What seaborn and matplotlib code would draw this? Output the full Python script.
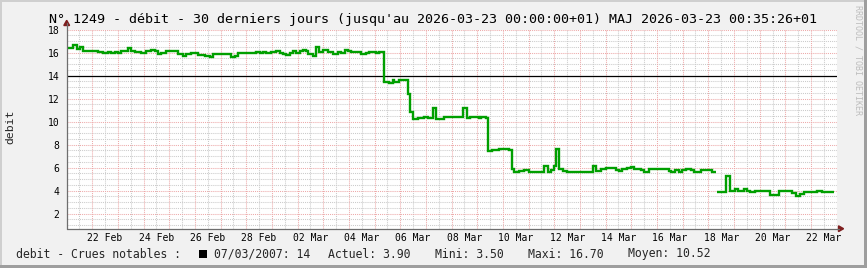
import numpy as np
import pandas as pd
import matplotlib
matplotlib.use("Agg")
import matplotlib.pyplot as plt
import matplotlib.dates as mdates
from matplotlib.patches import Rectangle, Polygon
from matplotlib.lines import Line2D
import seaborn as sns

# ------------------------------------------------------------------ data
period_start = "2026-02-21 00:00"
period_end = "2026-03-23 00:00"

# step changes: time (days since period start) and level (debit) from that time on
change_days = [
    0.00, 0.26, 0.39, 0.52, 0.65, 1.23, 1.43, 1.62, 1.75, 1.88, 2.01, 2.14, 2.40, 2.53,
    2.66, 2.92, 3.11, 3.31, 3.43, 3.57, 3.69, 3.89, 4.08, 4.34, 4.54, 4.67, 4.86, 5.12,
    5.38, 5.57, 5.71, 6.42, 6.55, 6.68, 6.87, 7.26, 7.39, 7.52, 7.65, 7.78, 7.97, 8.17,
    8.30, 8.43, 8.56, 8.69, 8.82, 8.95, 9.08, 9.21, 9.33, 9.40, 9.59, 9.72, 9.85, 9.98,
    10.18, 10.37, 10.57, 10.70, 10.83, 10.96, 11.08, 11.47, 11.67, 11.80, 12.06, 12.19,
    12.38, 12.58, 12.71, 12.77, 12.97, 13.29, 13.39, 13.48, 13.68, 13.94, 14.07, 14.26,
    14.39, 14.72, 14.85, 15.43, 15.60, 15.73, 16.08, 16.14, 16.34, 16.40, 16.59, 16.85,
    16.98, 17.11, 17.24, 17.37, 17.44, 17.63, 17.83, 18.02, 18.60, 18.76, 18.86, 18.97,
    19.06, 19.19, 19.32, 19.51, 20.49, 20.61, 20.81, 21.00, 21.20, 21.39, 21.52, 21.65,
    21.85, 21.97, 22.10, 22.36, 22.49, 22.69, 23.47, 23.53, 23.72, 23.85, 23.98, 24.12,
    24.31, 24.44, 24.70, 24.77, 25.15, 25.28, 25.32, 25.67, 25.84, 26.02, 26.15, 26.38,
    26.49, 26.64, 26.80, 27.42, 27.74, 28.07, 28.26, 28.43, 28.56, 28.71, 28.97, 29.23,
    29.43, 29.62,
]
debit_values = [
    16.37, 16.70, 16.31, 16.46, 16.17, 16.05, 15.94, 16.05, 15.94, 16.05, 15.94, 16.17, 16.37, 16.17,
    16.05, 15.99, 16.17, 16.26, 16.17, 15.88, 15.99, 16.17, 16.11, 15.88, 15.73, 15.88, 15.94, 15.82,
    15.70, 15.59, 15.88, 15.59, 15.73, 15.99, 15.94, 15.99, 16.03, 15.97, 16.08, 15.97, 16.08, 16.14,
    15.97, 15.88, 15.82, 15.97, 16.14, 15.97, 16.14, 16.23, 16.14, 15.85, 15.73, 16.50, 16.08, 16.23,
    16.08, 15.91, 16.08, 15.97, 16.20, 16.14, 16.03, 15.85, 15.97, 16.03, 15.97, 16.03,
    13.46, 13.40, 13.61, 13.46, 13.64, 12.38, 10.84, 10.20, 10.35, 10.40, 10.35, 11.16,
    10.26, 10.38, 10.43, 11.16, 10.29, 10.43, 10.35, 10.43, 10.35, 7.43, 7.52, 7.64,
    7.58, 7.64, 7.52, 5.89, 5.60, 5.70, 5.76, 5.65, 6.12, 5.65, 5.76, 6.10,
    7.64, 5.90, 5.70, 5.60, 6.12, 5.70, 5.85, 6.01, 5.95, 5.83, 5.72, 5.89,
    5.95, 6.07, 5.92, 5.77, 5.60, 5.89, 5.72, 5.60, 5.81, 5.60, 5.81, 5.92,
    5.77, 5.60, 5.75, 5.83, 5.66, np.nan, 3.89, 5.25, 3.94, 4.17, 3.97, 4.17,
    3.94, 3.89, 3.97, 3.62, 3.94, 3.97, 3.80, 3.50, 3.74, 3.91, 3.89, 3.94,
    3.89, 3.90,
]
last_sample_day = 29.88

threshold_value = 14
threshold_text = "07/03/2007: 14"
stat_names = ["Actuel", "Mini", "Maxi", "Moyen"]
stat_values = [3.90, 3.50, 16.70, 10.52]

y_tick_values = [2, 4, 6, 8, 10, 12, 14, 16, 18]
title_text = ("N° 1249 - débit - 30 derniers jours (jusqu'au 2026-03-23 00:00:00+01) "
              "MAJ 2026-03-23 00:35:26+01")
y_label_text = "debit"
legend_head = "debit - Crues notables :"
watermark = "RRDTOOL / TOBI OETIKER"

# ------------------------------------------------------------------ build table
t0 = pd.Timestamp(period_start)
rows = []
seg = 0
prev = None
for d, v in zip(change_days, debit_values):
    if np.isnan(v):
        rows.append((d, prev, seg))
        seg += 1
    else:
        rows.append((d, v, seg))
        prev = v
rows.append((last_sample_day, prev, seg))
df = pd.DataFrame(rows, columns=["day", "debit", "segment"])
df["time"] = t0 + pd.to_timedelta(df["day"], unit="D")

# ------------------------------------------------------------------ style
W, H = 867, 268
BG = "#f1f1f1"
GRID = "#cbcbcb"
MGRID = "#eda9a9"
AXIS = "#6e6e6e"
ARROW = "#7f1f1f"
GREEN = "#009f00"

sns.set_style("white")
plt.rcParams["font.family"] = ["DejaVu Sans Mono", "DejaVu Sans"]

fig = plt.figure(figsize=(W / 100, H / 100), dpi=100, facecolor=BG)

def fx(px):
    return px / W

def fy(py):
    return 1 - py / H

ax_l, ax_r, ax_t, ax_b = 66.5, 836.7, 29.6, 228.7
ax = fig.add_axes([fx(ax_l), fy(ax_b), fx(ax_r - ax_l), (ax_b - ax_t) / H])
ax.set_facecolor("white")

t_end = pd.Timestamp(period_end)
ax.set_xlim(t0, t_end)
ax.set_ylim(0.69, 18.0)

# grid
lw1 = 0.75
for d in pd.date_range(t0, t_end, freq="12h"):
    if d.hour != 0:
        ax.axvline(d, color=GRID, lw=lw1, ls=(0, (1, 1)), zorder=1)
for yv in np.arange(1.0, 18.01, 0.5):
    if yv % 2 != 0:
        ax.axhline(yv, color=GRID, lw=lw1, ls=(0, (1, 1)), zorder=1)
for d in pd.date_range(t0, t_end, freq="1D"):
    ax.axvline(d, color=MGRID, lw=lw1, ls=(0, (1, 1)), zorder=2)
for yv in y_tick_values:
    ax.axhline(yv, color=MGRID, lw=lw1, ls=(0, (1, 1)), zorder=2)

ax.axhline(threshold_value, color="black", lw=0.9, zorder=3)

sns.lineplot(data=df, x="time", y="debit", units="segment", estimator=None,
             sort=False, color=GREEN, linewidth=1.7, drawstyle="steps-post",
             solid_joinstyle="miter", solid_capstyle="butt",
             legend=False, ax=ax, zorder=4)

for s in ax.spines.values():
    s.set_visible(False)
ax.set_xlabel("")
ax.set_ylabel("")

label_days = pd.date_range(t0 + pd.Timedelta(hours=36), t_end, freq="2D")
ax.set_xticks(label_days)
ax.set_xticklabels([d.strftime("%d %b") for d in label_days])
ax.set_xticks(pd.date_range(t0, t_end, freq="1D"), minor=True)
ax.set_yticks(y_tick_values)
ax.set_yticklabels([str(v) for v in y_tick_values])
ax.tick_params(axis="x", which="major", length=0, pad=3.2, labelsize=7, colors="black")
ax.tick_params(axis="x", which="minor", length=1.5, width=0.75, color=AXIS, direction="out")
ax.tick_params(axis="y", which="major", length=1.5, width=0.75, color=AXIS, pad=3.8,
               labelsize=7, labelcolor="black")
ax.tick_params(axis="x", which="major", bottom=True)
ax.grid(False)

# axis lines with arrows
fig.add_artist(Line2D([fx(66.7), fx(66.7)], [fy(ax_b), fy(23)], color=AXIS, lw=0.9))
fig.add_artist(Line2D([fx(66.7), fx(839)], [fy(ax_b), fy(ax_b)], color=AXIS, lw=0.9))
fig.add_artist(Polygon([[fx(63.8), fy(25.5)], [fx(69.6), fy(25.5)], [fx(66.7), fy(20.3)]],
                       closed=True, color=ARROW, transform=fig.transFigure))
fig.add_artist(Polygon([[fx(838.5), fy(225.8)], [fx(838.5), fy(231.6)], [fx(843.6), fy(228.7)]],
                       closed=True, color=ARROW, transform=fig.transFigure))

# frame shading
fig.add_artist(Rectangle((0, fy(2)), 1, 2 / H, color="#cfcfcf", transform=fig.transFigure, lw=0))
fig.add_artist(Rectangle((0, 0), 2 / W, 1, color="#cfcfcf", transform=fig.transFigure, lw=0))
fig.add_artist(Rectangle((0, 0), 1, 3 / H, color="#9e9e9e", transform=fig.transFigure, lw=0))
fig.add_artist(Rectangle((fx(864), 0), 3 / W, 1, color="#9e9e9e", transform=fig.transFigure, lw=0))

# texts
fig.text(fx(433), fy(19), title_text, ha="center", va="center", fontsize=9.6, color="black")
fig.text(fx(10), fy(127), y_label_text, rotation=90, ha="center", va="center", fontsize=8.2)
fig.text(fx(857.8), fy(5), watermark, rotation=270, ha="center", va="top",
         fontsize=6, color="#bdbdbd")

ly = fy(254)
fig.text(fx(16), ly, legend_head, ha="left", va="center", fontsize=8.3)
fig.add_artist(Rectangle((fx(199), fy(258)), 8 / W, 8 / H, color="black",
                         transform=fig.transFigure, lw=0))
fig.text(fx(214), ly, threshold_text, ha="left", va="center", fontsize=8.3)
stat_x = [328, 435, 528, 628]
for xp, name, val in zip(stat_x, stat_names, stat_values):
    fig.text(fx(xp), ly, f"{name}: {val:.2f}", ha="left", va="center", fontsize=8.3)

fig.savefig("out.png", dpi=100, facecolor=BG)
